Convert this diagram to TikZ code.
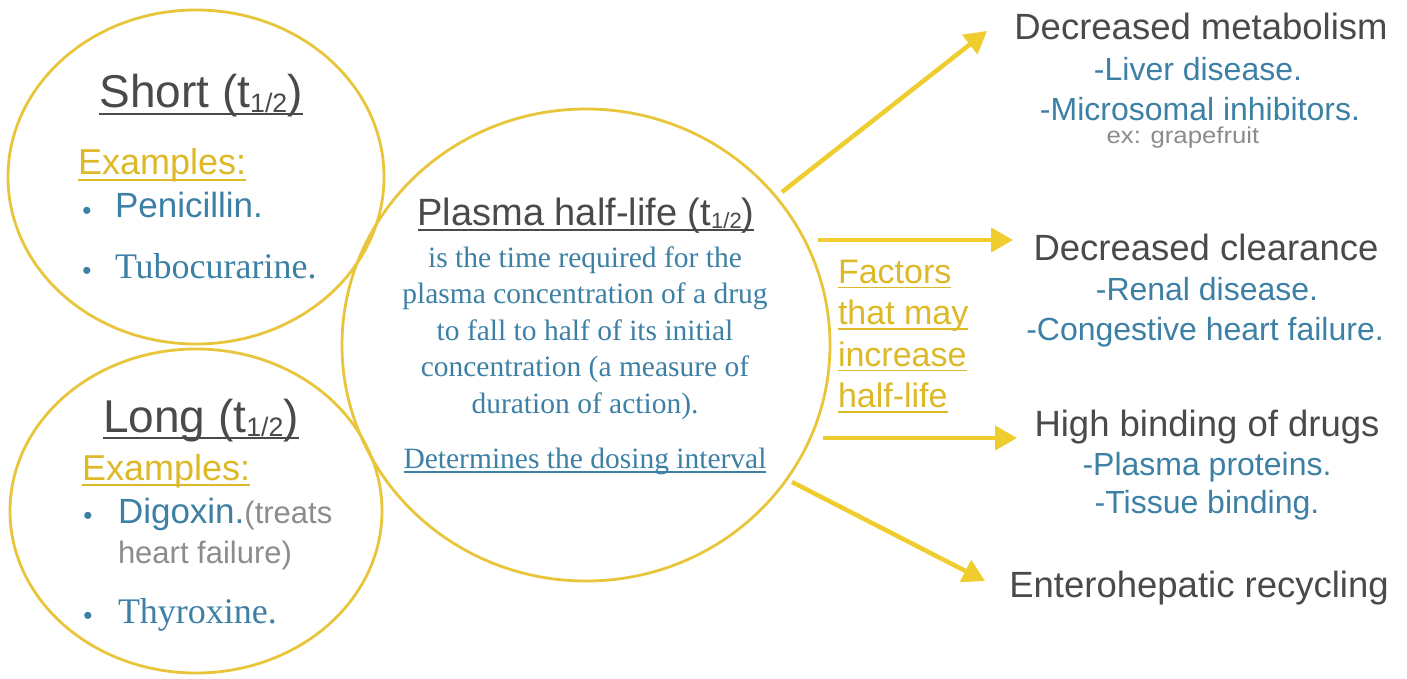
\documentclass[tikz,border=0pt]{standalone}
\usepackage{fontspec}
\setmainfont{Liberation Sans}
\newfontfamily\tnr{Liberation Serif}
\usetikzlibrary{shapes.geometric,arrows.meta}
\definecolor{ylw}{HTML}{E8C53A}
\definecolor{ylwtxt}{HTML}{DDB928}
\definecolor{arr}{HTML}{F0CD2E}
\definecolor{blu}{HTML}{3D80A5}
\definecolor{drk}{HTML}{4A4A4A}
\definecolor{gry}{HTML}{8C8C8C}
\newcommand\myul[1]{\sbox0{#1}\rlap{\rule[-0.16em]{\wd0}{0.05em}}\usebox0}
\newcommand\hsub[1]{\raisebox{-0.1em}{\scalebox{0.58}{#1}}}
\newcommand\fs[1]{\fontsize{#1}{#1}\selectfont}
\begin{document}
\begin{tikzpicture}[x=1pt,y=-1pt,
  ring/.style={draw=ylw, line width=2.8pt, ellipse, inner sep=0pt},
  arrow/.style={draw=arr, line width=4.5pt, -{Triangle[length=22pt,width=24pt]}},
  txt/.style={inner sep=0pt, outer sep=0pt},
  head/.style={txt, anchor=base, text=drk, font=\fs{36.5}},
  sub/.style={txt, anchor=base, text=blu, font=\fs{32}},
  bigt/.style={txt, anchor=base, text=drk, font=\fs{46}},
  ex/.style={txt, anchor=base west, text=ylwtxt, font=\fs{36}},
  bul/.style={txt, anchor=base, text=blu, font=\fs{26}},
  item/.style={txt, anchor=base west, text=blu, font=\fs{35}},
  itemser/.style={txt, anchor=base west, text=blu, font=\tnr\fs{36}},
  desc/.style={txt, anchor=base, text=blu, font=\tnr\fs{29.5}},
  fac/.style={txt, anchor=base west, text=ylwtxt, font=\fs{34}}
]
\fill[white] (0,0) rectangle (1407,679);
\useasboundingbox (0,0) rectangle (1407,679);

% circles
\node[ring, minimum width=376pt, minimum height=334pt] (short) at (196,177) {};
\node[ring, minimum width=372pt, minimum height=324pt] (long) at (196,511) {};
\node[ring, minimum width=488pt, minimum height=472pt] (plasma) at (586,345) {};

% short
\node[bigt] (shortT) at (201,108) {\myul{Short (t\hsub{1/2})}};
\node[ex] (shortE) at (78,175) {\myul{Examples:}};
\node[bul] (b1) at (87,219) {•};
\node[item] (pen) at (115,218) {Penicillin.};
\node[bul] (b2) at (87,279) {•};
\node[itemser] (tubo) at (115,278) {Tubocurarine.};

% long
\node[bigt] (longT) at (201,432) {\myul{Long (t\hsub{1/2})}};
\node[ex] (longE) at (82,480) {\myul{Examples:}};
\node[bul] (b3) at (88,524) {•};
\node[item] (dig) at (118,523) {Digoxin.\textcolor{gry}{\fs{31}(treats}};
\node[txt, anchor=base west, text=gry, font=\fs{31}] (hf) at (118,563) {heart failure)};
\node[bul] (b4) at (88,624) {•};
\node[itemser] (thy) at (118,623) {Thyroxine.};

% center
\node[txt, anchor=base, text=drk, font=\fs{38}] (plT) at (586,225) {\myul{Plasma half-life (t\hsub{1/2})}};
\node[desc] (d1) at (585,267) {is the time required for the};
\node[desc] (d2) at (585,303.5) {plasma concentration of a drug};
\node[desc] (d3) at (585,340) {to fall to half of its initial};
\node[desc] (d4) at (585,376.5) {concentration (a measure of};
\node[desc] (d5) at (585,413) {duration of action).};
\node[desc] (det) at (585,468) {\myul{Determines the dosing interval}};

% factors
\node[fac] (f1) at (838,283) {\myul{Factors}};
\node[fac] (f2) at (838,324.5) {\myul{that may}};
\node[fac] (f3) at (838,366) {\myul{increase}};
\node[fac] (f4) at (838,407.5) {\myul{half-life}};

% right side
\node[head] (dm) at (1201,40) {Decreased metabolism};
\node[sub] (ld) at (1198,81) {-Liver disease.};
\node[sub] (mi) at (1200,121) {-Microsomal inhibitors.};
\node[txt, anchor=base, text=gry, font=\fs{23}] (gf) at (1183,144) {\scalebox{1.12}[1]{ex: grapefruit}};
\node[head] (dc) at (1206,260) {Decreased clearance};
\node[sub] (rd) at (1207,300) {-Renal disease.};
\node[sub] (ch) at (1205,340) {-Congestive heart failure.};
\node[head] (hb) at (1207,436) {High binding of drugs};
\node[sub] (pp) at (1207,475) {-Plasma proteins.};
\node[sub] (tb) at (1207,513) {-Tissue binding.};
\node[head] (er) at (1199,597) {Enterohepatic recycling};

% arrows
\coordinate (a1s) at (782,192); \coordinate (a1e) at (987,31);
\coordinate (a2s) at (818,240); \coordinate (a2e) at (1013,240);
\coordinate (a3s) at (823,438); \coordinate (a3e) at (1017,438);
\coordinate (a4s) at (792,482); \coordinate (a4e) at (985,581);
\draw[arrow] (a1s) -- (a1e);
\draw[arrow] (a2s) -- (a2e);
\draw[arrow] (a3s) -- (a3e);
\draw[arrow] (a4s) -- (a4e);
\end{tikzpicture}
\end{document}
